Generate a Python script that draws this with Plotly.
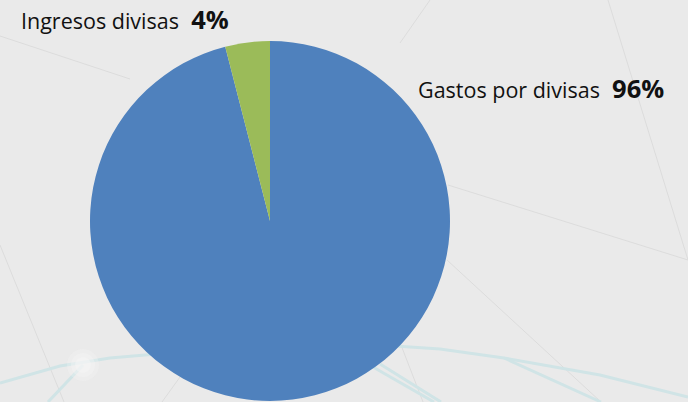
import plotly.graph_objects as go

labels = ["Gastos por divisas", "Ingresos divisas"]
values = [96, 4]
colors = ["#4f81bd", "#9bbb59"]
pct_labels = ["96%", "4%"]

W, H = 688, 402
BG = "#eaeaea"

fig = go.Figure()
fig.add_trace(go.Pie(
    labels=labels, values=values, sort=False, direction="clockwise", rotation=0,
    marker=dict(colors=colors, line=dict(width=0)),
    textinfo="none", hoverinfo="label+percent", showlegend=False,
    domain=dict(x=[90/W, 450/W], y=[1-401/H, 1-41/H]),
))

def px(x, y):
    return x / W, 1 - y / H

# decorative background lines (paper coordinates)
thin = [((0, 36), (130, 79)), ((400, 43), (430, 0)), ((608, 0), (688, 260)),
        ((448, 185), (688, 260)), ((447, 260), (601, 402)), ((0, 245), (64, 402)),
        ((401, 345), (423, 402)), ((180, 377), (162, 402))]
shapes = []
for (a, b) in thin:
    x0, y0 = px(*a); x1, y1 = px(*b)
    shapes.append(dict(type="line", xref="paper", yref="paper", x0=x0, y0=y0, x1=x1, y1=y1,
                       line=dict(color="#dcdcdc", width=1), layer="below"))

def path(pts):
    s = ""
    for i, (x, y) in enumerate(pts):
        s += ("M" if i == 0 else "L") + f"{x},{H - y} "
    return s

teal = [[(0, 383), (60, 366), (110, 358), (145, 355), (180, 352)],
        [(380, 345), (440, 349), (504, 358), (600, 375), (688, 397)],
        [(373, 367), (434, 402)], [(380, 364), (441, 402)],
        [(504, 358), (601, 402)], [(83, 365), (48, 402)]]
for pts in teal:
    shapes.append(dict(type="path", xref="x", yref="y", path=path(pts),
                       line=dict(color="#d0e4e6", width=3), layer="below"))
for r, op in [(16, 0.25), (12, 0.35), (8, 0.5)]:
    shapes.append(dict(type="circle", xref="x", yref="y", x0=83-r, x1=83+r, y0=H-365-r, y1=H-365+r,
                       fillcolor="#f6f6f6", line=dict(width=0), layer="below", opacity=op))

ann = []
for lab, pct, (x, y) in [(labels[1], pct_labels[1], (19, 19)), (labels[0], pct_labels[0], (416, 88))]:
    xx, yy = px(x, y)
    ann.append(dict(x=xx, y=yy, xref="paper", yref="paper", xanchor="left", yanchor="middle",
                    showarrow=False,
                    text=f"{lab} <b><span style='font-size:25.5px'> {pct}</span></b>",
                    font=dict(family="Open Sans, sans-serif", size=21.5, color="#111111")))

fig.update_layout(
    width=W, height=H, margin=dict(l=0, r=0, t=0, b=0),
    paper_bgcolor=BG, plot_bgcolor=BG,
    xaxis=dict(range=[0, W], visible=False, fixedrange=True),
    yaxis=dict(range=[0, H], visible=False, fixedrange=True),
    shapes=shapes, annotations=ann,
)
fig.write_html("out.html", config={"displayModeBar": False},
               post_script="document.body.style.margin='0';document.body.style.overflow='hidden';")
